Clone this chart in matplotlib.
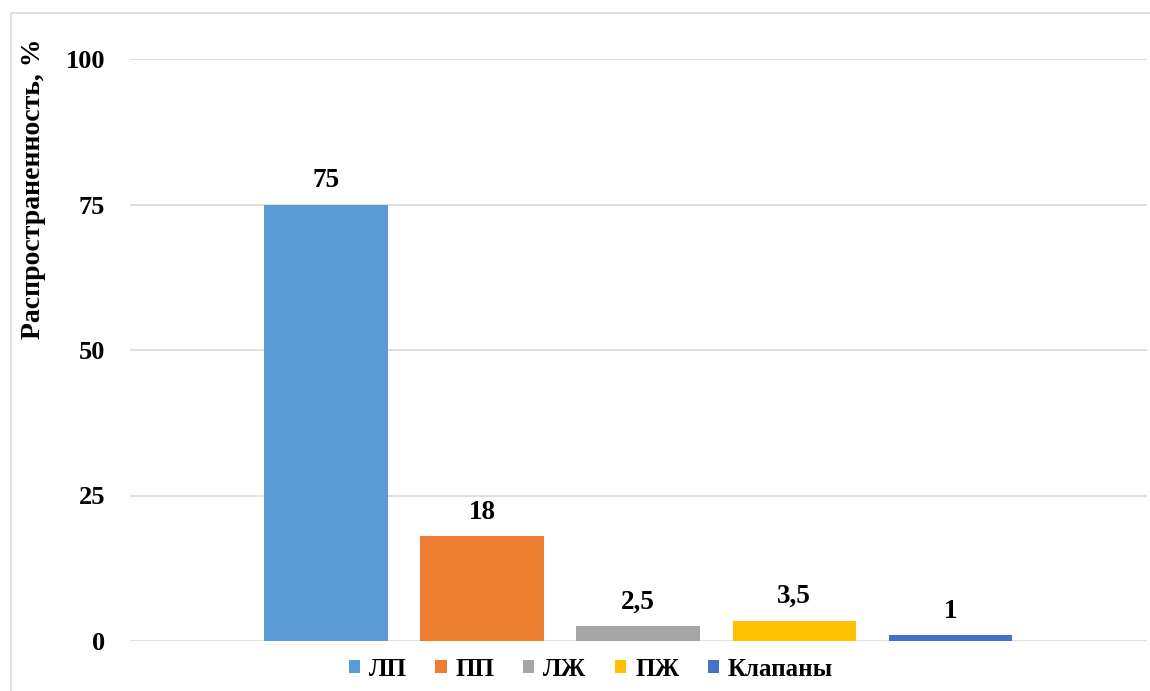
import matplotlib.pyplot as plt
from matplotlib.patches import Rectangle

# Prevalence by location
labels = ['ЛП', 'ПП', 'ЛЖ', 'ПЖ', 'Клапаны']
values = [75, 18, 2.5, 3.5, 1]
value_text = ['75', '18', '2,5', '3,5', '1']
colors = ['#5B9BD5', '#ED7D31', '#A5A5A5', '#FFC000', '#4472C4']
yticks = [0, 25, 50, 75, 100]

plt.rcParams['font.family'] = ['Liberation Serif', 'DejaVu Serif']
plt.rcParams['font.weight'] = 'bold'

fig = plt.figure(figsize=(11.5, 6.91), dpi=100)

# light outer frame of the chart box
fig.add_artist(Rectangle((11 / 1150, -0.01), 1.2, 1 - 13 / 691 + 0.01,
                         transform=fig.transFigure, fill=False,
                         edgecolor='#D9D9D9', linewidth=1.2))

ax = fig.add_axes([130 / 1150, 1 - 641 / 691, (1147 - 130) / 1150, (641 - 59) / 691])

x = list(range(len(labels)))
bars = []
for i in x:
    b = ax.bar(i, values[i], width=0.79, color=colors[i], label=labels[i], zorder=3)
    bars.append(b)
    ax.text(i, values[i] + 2.0, value_text[i], ha='center', va='bottom',
            fontsize=19.5, fontweight='bold')

ax.set_xlim(-1.255, 4 + 1.26)
ax.set_ylim(0, 100)
ax.set_yticks(yticks)
ax.set_yticklabels([str(t) for t in yticks], fontsize=19, fontweight='bold')
ax.tick_params(axis='y', length=0, pad=18)
ax.set_xticks([])
ax.grid(axis='y', color='#D9D9D9', linewidth=1.2, zorder=0)
for s in ax.spines.values():
    s.set_visible(False)

fig.text(34 / 1150, 1 - 189 / 691, 'Распространенность, %', rotation=90,
         ha='center', va='center', fontsize=20, fontweight='bold')

fig.legend(handles=[b[0] for b in bars], labels=labels, loc='center',
           bbox_to_anchor=(591 / 1150, 1 - 669 / 691), ncol=5, frameon=False,
           handlelength=0.45, handleheight=0.45, handletextpad=0.35,
           columnspacing=1.15, prop={'weight': 'bold', 'size': 18})

fig.savefig('out.png', dpi=100, facecolor='white')
